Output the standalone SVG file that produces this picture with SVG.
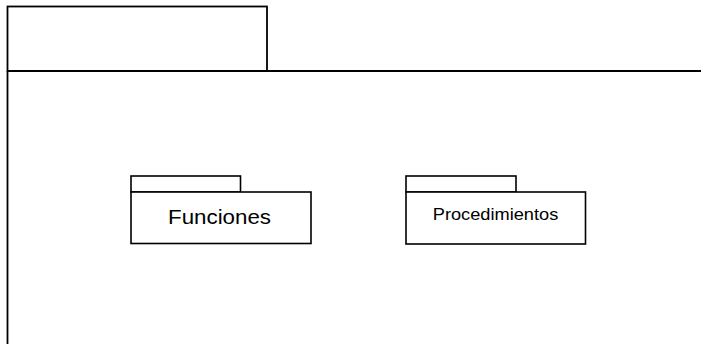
<svg xmlns="http://www.w3.org/2000/svg" width="701" height="344" viewBox="0 0 701 344">
  <style>
    .frame { fill: none; stroke: #000; stroke-width: 1.8; }
    .box { fill: #fff; stroke: #000; stroke-width: 1.6; }
    .label { font-family: "Liberation Sans", Arial, sans-serif; fill: #000; text-anchor: middle; }
  </style>
  <rect width="701" height="344" fill="#fff"/>

  <!-- outer package -->
  <g id="package-main">
    <rect class="frame" x="7.5" y="6.5" width="259.5" height="64.5"/>
    <path class="frame" d="M7.5 71 L701 71 M7.5 71 L7.5 344"/>
  </g>

  <!-- Funciones package -->
  <g id="package-funciones">
    <rect class="box" x="131" y="176" width="109.5" height="16"/>
    <rect class="box" x="131" y="192" width="180" height="51.5"/>
    <text class="label" x="219.5" y="224.3" font-size="20" textLength="103" lengthAdjust="spacingAndGlyphs">Funciones</text>
  </g>

  <!-- Procedimientos package -->
  <g id="package-procedimientos">
    <rect class="box" x="406" y="176" width="110" height="16"/>
    <rect class="box" x="406" y="192" width="179.5" height="52"/>
    <text class="label" x="495.5" y="220" font-size="17" textLength="125.5" lengthAdjust="spacingAndGlyphs">Procedimientos</text>
  </g>

  <g id="connectors"></g>
</svg>
